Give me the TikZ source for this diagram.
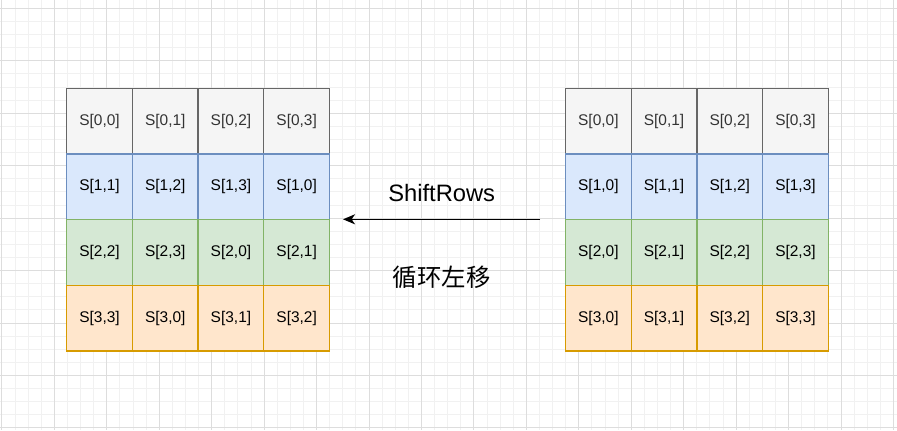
\documentclass[tikz,border=0pt]{standalone}
\usepackage{fontspec}
\setmainfont{Liberation Sans}
\newfontfamily\cjk{Noto Sans CJK SC}
\usetikzlibrary{arrows.meta}
\definecolor{gridminor}{HTML}{F1F1F1}
\definecolor{gridmajor}{HTML}{DDDDDD}
\definecolor{fillA}{HTML}{F5F5F5}\definecolor{lineA}{HTML}{666666}\definecolor{textA}{HTML}{333333}
\definecolor{fillB}{HTML}{DAE8FC}\definecolor{lineB}{HTML}{6C8EBF}
\definecolor{fillC}{HTML}{D5E8D4}\definecolor{lineC}{HTML}{82B366}
\definecolor{fillD}{HTML}{FFE6CC}\definecolor{lineD}{HTML}{D79B00}
\begin{document}
\begin{tikzpicture}[x=0.75pt,y=-0.75pt,
  cell/.style={draw, minimum width=49.28pt, minimum height=49.28pt, inner sep=0pt,
    line width=1pt, font=\fontsize{11.6}{13}\selectfont},
  rs0/.style={fill=fillA, draw=lineA, text=textA},
  rs1/.style={fill=fillB, draw=lineB, text=black},
  rs2/.style={fill=fillC, draw=lineC, text=black},
  rs3/.style={fill=fillD, draw=lineD, text=black},
  lbl/.style={inner sep=0pt, font=\fontsize{17.8}{20}\selectfont},
  cjklbl/.style={inner sep=0pt, font=\cjk\fontsize{18.3}{20}\selectfont},
  gmin/.style={draw=gridminor, line width=0.6pt},
  gmaj/.style={draw=gridmajor, line width=0.6pt}]
\fill[white] (0,0) rectangle (897,430);
\useasboundingbox (0,0) rectangle (897,430);
% grid
\foreach \k in {0,...,68}{\pgfmathsetmacro\xx{1.9+13.11*\k}\draw[gmin] (\xx,0) -- (\xx,430);}
\foreach \k in {0,...,32}{\pgfmathsetmacro\yy{8.3+13.11*\k}\draw[gmin] (0,\yy) -- (897,\yy);}
\foreach \k in {0,...,17}{\pgfmathsetmacro\xx{1.9+52.44*\k}\draw[gmaj] (\xx,0) -- (\xx,430);}
\foreach \k in {0,...,8}{\pgfmathsetmacro\yy{8.3+52.44*\k}\draw[gmaj] (0,\yy) -- (897,\yy);}
% tables
\foreach \r in {0,...,3}{
  \foreach \c in {0,...,3}{
    \pgfmathtruncatemacro\m{mod(\c+\r,4)}
    \pgfmathsetmacro\lx{66.7+65.7*(\c+0.5)}
    \pgfmathsetmacro\rx{565.5+65.7*(\c+0.5)}
    \pgfmathsetmacro\cy{88.3+65.7*(\r+0.5)}
    \node[cell, rs\r] (L-\r-\c) at (\lx,\cy) {S[\r,\m]};
    \node[cell, rs\r] (R-\r-\c) at (\rx,\cy) {S[\r,\c]};
  }
}
% arrow and labels
\coordinate (arrS) at (540,219.3);
\coordinate (arrE) at (343,219.3);
\draw[line width=1.05pt, -{Stealth[length=9pt, width=7.5pt, inset=2.5pt]}] (arrS) -- (arrE);
\node[lbl] (shift) at (441.7,193) {ShiftRows};
\node[cjklbl] (zh) at (441.7,277.5) {循环左移};
\end{tikzpicture}
\end{document}
